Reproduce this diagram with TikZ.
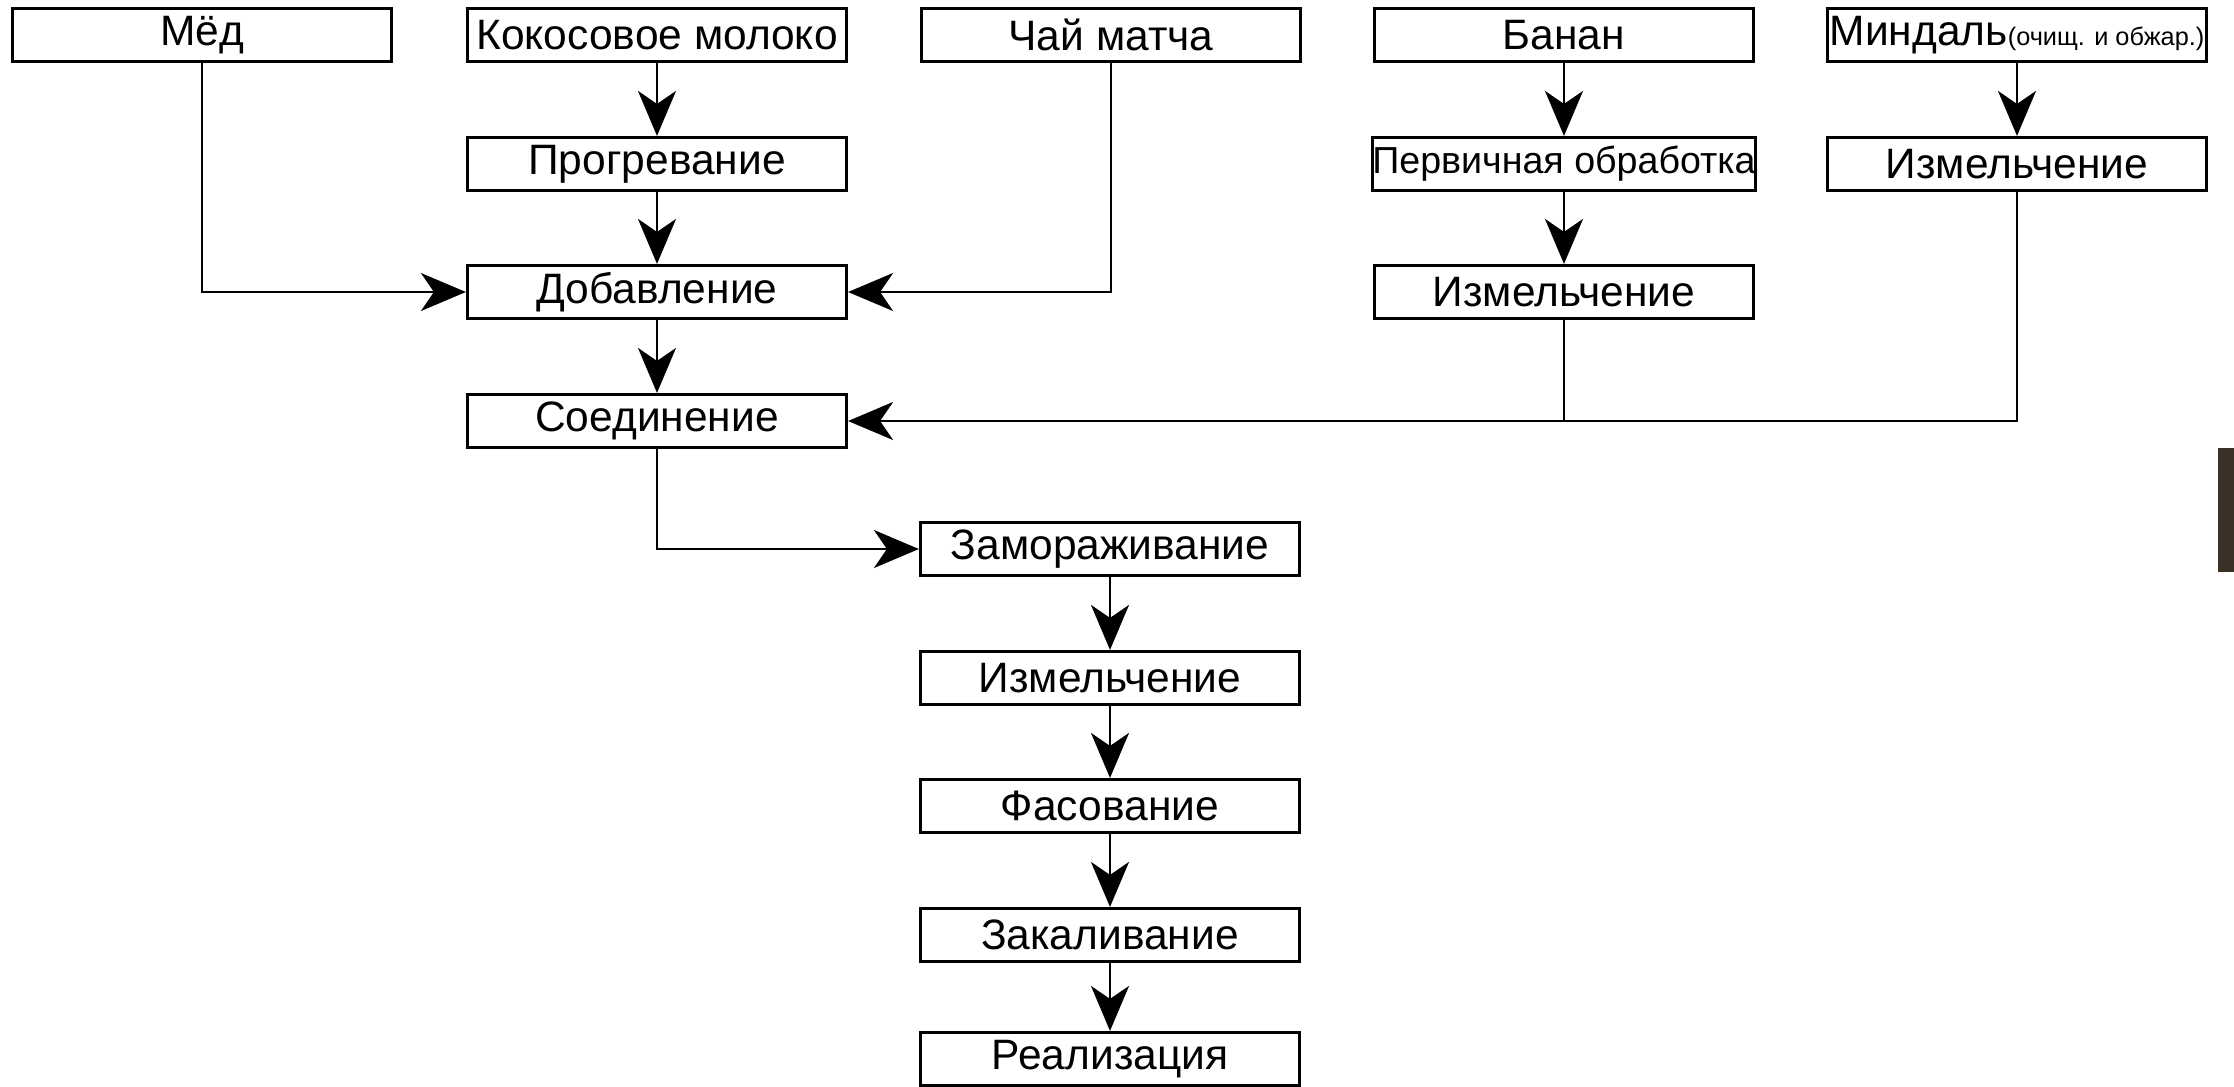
\documentclass[tikz,border=0pt]{standalone}
\usepackage{fontspec}
\setmainfont{Liberation Sans}
\usetikzlibrary{arrows.meta}
\definecolor{bark}{HTML}{3B3025}

\begin{document}
\begin{tikzpicture}[x=0.1mm, y=-0.1mm,
  box/.style={draw, line width=0.9pt, minimum width=37.9mm, minimum height=5.3mm,
    inner sep=0pt, font=\fontsize{12.1}{14}\selectfont},
  line/.style={line width=0.6pt},
  arr/.style={line, -{Stealth[length=4.5mm, width=3.8mm, inset=1.3mm]}}]
  \useasboundingbox (0,0) rectangle (2234,1086);

  % raw materials
  \node[box] (honey)  at (202,35)  {Мёд};
  \node[box] (milk)   at (657,35)  {Кокосовое молоко};
  \node[box] (tea)    at (1111,35) {Чай матча};
  \node[box] (banana) at (1564,35) {Банан};
  \node[box] (almond) at (2017,35) {Миндаль{\fontsize{7.2}{8}\selectfont(очищ. и обжар.)}};

  \node[box] (heat)   at (657,164)  {Прогревание};
  \node[box, font=\fontsize{10.7}{12}\selectfont] (prep) at (1564,164) {Первичная обработка};
  \node[box] (agrind) at (2017,164) {Измельчение};

  \node[box] (add)    at (657,292)  {Добавление};
  \node[box] (bgrind) at (1564,292) {Измельчение};

  \node[box] (mix)    at (657,421)  {Соединение};

  % main line
  \node[box] (freeze) at (1110,549)  {Замораживание};
  \node[box] (grind)  at (1110,678)  {Измельчение};
  \node[box] (pack)   at (1110,806)  {Фасование};
  \node[box] (harden) at (1110,935)  {Закаливание};
  \node[box] (sale)   at (1110,1059) {Реализация};

  \coordinate (join) at (bgrind.south |- mix.east);

  \draw[arr] (milk) -- (heat);
  \draw[arr] (heat) -- (add);
  \draw[arr] (honey.south) |- (add.west);
  \draw[arr] (tea.south) |- (add.east);
  \draw[arr] (add) -- (mix);

  \draw[arr] (banana) -- (prep);
  \draw[arr] (prep) -- (bgrind);
  \draw[arr] (almond) -- (agrind);
  \draw[line] (bgrind.south) -- (join);
  \draw[arr] (agrind.south) |- (mix.east);

  \draw[arr] (mix.south) |- (freeze.west);
  \draw[arr] (freeze) -- (grind);
  \draw[arr] (grind) -- (pack);
  \draw[arr] (pack) -- (harden);
  \draw[arr] (harden) -- (sale);

  \fill[bark] (2218,448) rectangle (2234,572);
\end{tikzpicture}
\end{document}
